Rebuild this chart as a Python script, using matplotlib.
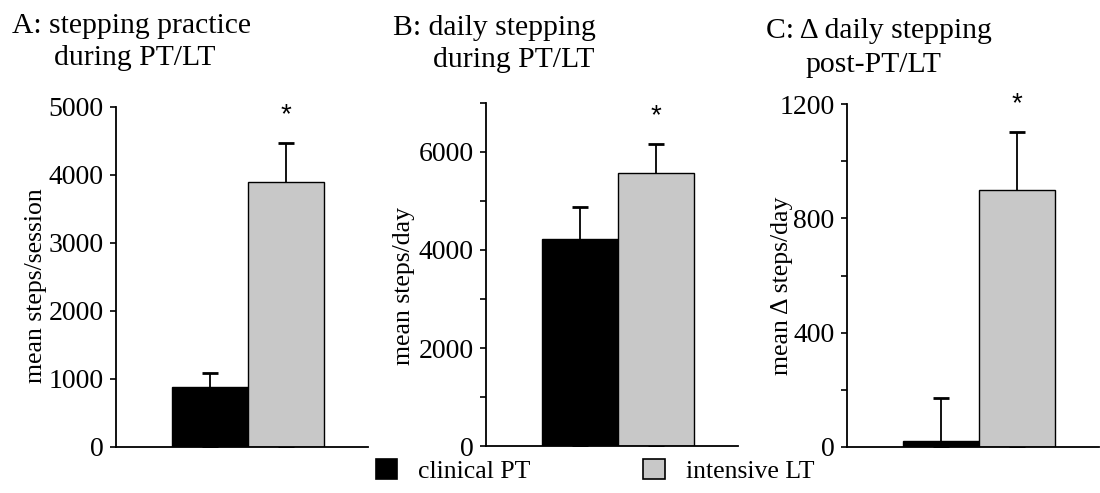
import matplotlib.pyplot as plt
from matplotlib.patches import Patch

plt.rcParams['font.family'] = ['Liberation Serif', 'DejaVu Serif']

# data
groups = ['clinical PT', 'intensive LT']
colors = ['black', '#c8c8c8']

steps_session = [880, 3895]
steps_session_err = [205, 577]

steps_day = [4220, 5565]
steps_day_err = [650, 595]

delta_steps = [20, 898]
delta_steps_err = [150, 204]

titles = [('A: stepping practice', 'during PT/LT'),
          ('B: daily stepping', 'during PT/LT'),
          ('C: \u0394 daily stepping', 'post-PT/LT')]
ylabels = ['mean steps/session', 'mean steps/day', 'mean \u0394 steps/day']

fig = plt.figure(figsize=(11, 4.93), dpi=100)

W = 252 / 1100
axA = fig.add_axes([116 / 1100, 1 - 447 / 493, W, (447 - 107) / 493])
axB = fig.add_axes([486 / 1100, 1 - 446 / 493, W, (446 - 103) / 493])
axC = fig.add_axes([847 / 1100, 1 - 447 / 493, W, (447 - 104) / 493])

panels = [
    (axA, steps_session, steps_session_err, 5000, range(0, 5001, 1000), []),
    (axB, steps_day, steps_day_err, 7000, range(0, 7000, 2000), range(1000, 7001, 2000)),
    (axC, delta_steps, delta_steps_err, 1200, range(0, 1201, 400), range(200, 1201, 400)),
]

x = [0, 1]
for ax, vals, errs, top, major, minor in panels:
    ax.bar(x, vals, width=1.0, color=colors, edgecolor='black', linewidth=1.0, zorder=2)
    # lower end of the error bar hidden behind the bar, so only the upper half shows
    ax.errorbar(x, vals, yerr=[vals, errs], fmt='none', ecolor='black',
                elinewidth=1.3, capsize=6, capthick=2, zorder=1)
    # significance star over intensive LT
    ax.annotate('*', xy=(1, vals[1] + errs[1]), xytext=(0, 20), textcoords='offset points',
                ha='center', va='center', fontsize=20, family='Liberation Sans')
    ax.set_xlim(-1.23, 2.08)
    ax.set_ylim(0, top)
    ax.set_yticks(list(major))
    ax.set_yticks(list(minor), minor=True)
    ax.set_xticks([])
    for s in ['top', 'right']:
        ax.spines[s].set_visible(False)
    ax.spines['left'].set_linewidth(1.3)
    ax.spines['bottom'].set_linewidth(1.3)
    ax.spines['bottom'].set_zorder(3)
    ax.tick_params(axis='y', which='both', direction='out', length=4, width=1.2,
                   labelsize=20, pad=5)

ylab_x = [36, 404, 782]
for lab, xx in zip(ylabels, ylab_x):
    fig.text(xx / 1100, 1 - 286 / 493, lab, rotation=90, ha='center', va='center', fontsize=18.5)

title_pos = [((12, 33), (54, 65)), ((393, 35), (433, 67)), ((766, 38), (805, 72))]
for (l1, l2), ((x1, y1), (x2, y2)) in zip(titles, title_pos):
    fig.text(x1 / 1100, 1 - y1 / 493, l1, ha='left', va='baseline', fontsize=21.3)
    fig.text(x2 / 1100, 1 - y2 / 493, l2, ha='left', va='baseline', fontsize=21.3)

handles = [Patch(facecolor=c, edgecolor='black', linewidth=1.2) for c in colors]
fig.legend(handles, groups, loc='center', bbox_to_anchor=(595 / 1100, 1 - 471 / 493),
           ncol=2, frameon=False, fontsize=18.5, handlelength=0.85, handleheight=0.85,
           handletextpad=0.8, columnspacing=4.4, borderpad=0)

fig.savefig('out.png', dpi=100)
